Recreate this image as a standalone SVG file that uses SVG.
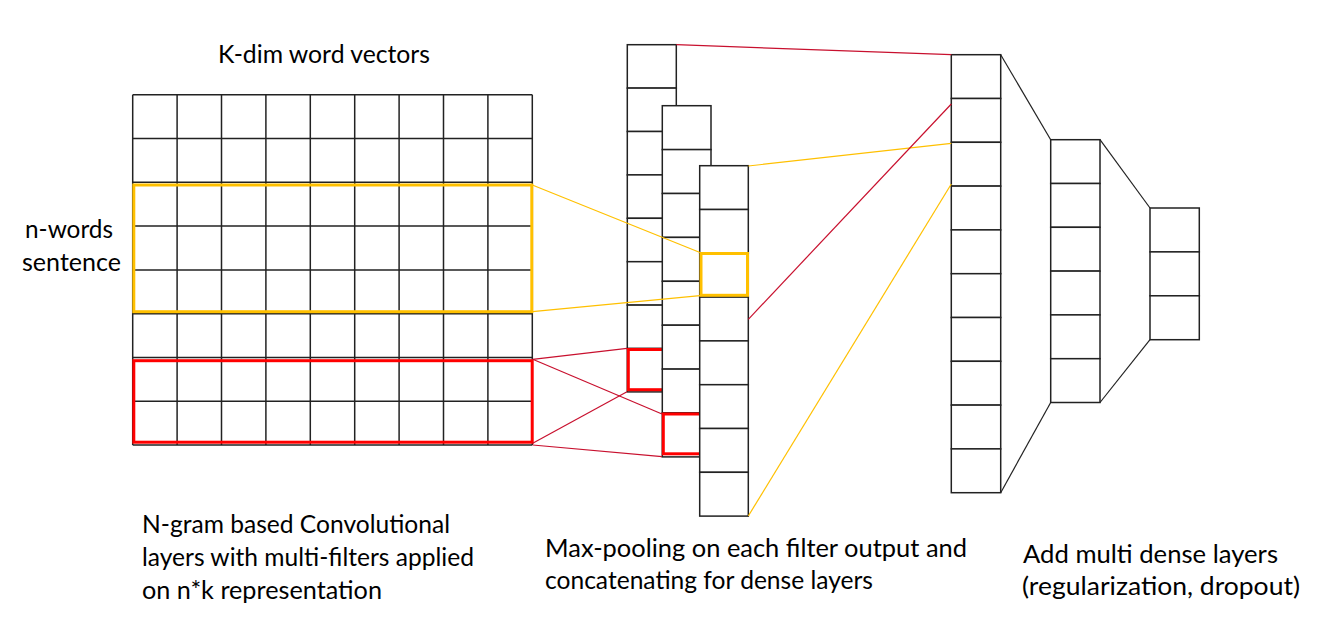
<svg xmlns="http://www.w3.org/2000/svg" width="1334" height="642" viewBox="0 0 1334 642">
<style>
.cell{fill:#fff;stroke:#222;stroke-width:1.5}
.gl{stroke:#222;stroke-width:1.5}
.ybox{fill:none;stroke:#FFC000;stroke-width:3}
.rbox{fill:none;stroke:#FF0000;stroke-width:3}
.yl{stroke:#FFC000;stroke-width:1.2;fill:none}
.rl{stroke:#C8102E;stroke-width:1.2;fill:none}
.bl{stroke:#222;stroke-width:1.2;fill:none}
text{font-family:Lato,"Open Sans","Liberation Sans",sans-serif;font-size:24.5px;fill:#000}
</style>
<rect width="1334" height="642" fill="#fff"/>
<g id="labels">
<text x="218" y="63" textLength="212" lengthAdjust="spacingAndGlyphs">K-dim word vectors</text>
<text x="25" y="238" textLength="88" lengthAdjust="spacingAndGlyphs">n-words</text>
<text x="22" y="271" textLength="99" lengthAdjust="spacingAndGlyphs">sentence</text>
<text x="142" y="533" textLength="308" lengthAdjust="spacingAndGlyphs">N-gram based Convolutional</text>
<text x="142" y="566" textLength="332" lengthAdjust="spacingAndGlyphs">layers with multi-filters applied</text>
<text x="142" y="599" textLength="240" lengthAdjust="spacingAndGlyphs">on n*k representation</text>
<text x="545" y="557" textLength="422" lengthAdjust="spacingAndGlyphs">Max-pooling on each filter output and</text>
<text x="545" y="589" textLength="328" lengthAdjust="spacingAndGlyphs">concatenating for dense layers</text>
<text x="1023" y="563" textLength="255" lengthAdjust="spacingAndGlyphs">Add multi dense layers</text>
<text x="1022" y="595" textLength="278" lengthAdjust="spacingAndGlyphs">(regularization, dropout)</text>
</g>
<g id="word-matrix">
<rect x="132.7" y="94.7" width="399.6" height="350.4" fill="#fff"/>
<g class="gl">
<line x1="132.7" y1="94.7" x2="132.7" y2="445.1"/>
<line x1="177.1" y1="94.7" x2="177.1" y2="445.1"/>
<line x1="221.5" y1="94.7" x2="221.5" y2="445.1"/>
<line x1="265.9" y1="94.7" x2="265.9" y2="445.1"/>
<line x1="310.3" y1="94.7" x2="310.3" y2="445.1"/>
<line x1="354.7" y1="94.7" x2="354.7" y2="445.1"/>
<line x1="399.1" y1="94.7" x2="399.1" y2="445.1"/>
<line x1="443.5" y1="94.7" x2="443.5" y2="445.1"/>
<line x1="487.9" y1="94.7" x2="487.9" y2="445.1"/>
<line x1="532.3" y1="94.7" x2="532.3" y2="445.1"/>
<line x1="132.7" y1="94.7" x2="532.3" y2="94.7"/>
<line x1="132.7" y1="138.5" x2="532.3" y2="138.5"/>
<line x1="132.7" y1="182.3" x2="532.3" y2="182.3"/>
<line x1="132.7" y1="226.1" x2="532.3" y2="226.1"/>
<line x1="132.7" y1="269.9" x2="532.3" y2="269.9"/>
<line x1="132.7" y1="313.7" x2="532.3" y2="313.7"/>
<line x1="132.7" y1="357.5" x2="532.3" y2="357.5"/>
<line x1="132.7" y1="401.3" x2="532.3" y2="401.3"/>
<line x1="132.7" y1="445.1" x2="532.3" y2="445.1"/>
</g>
<rect class="ybox" x="133.8" y="185" width="398" height="126.7"/>
<rect class="rbox" x="133.8" y="360.7" width="398.4" height="81.5"/>
</g>
<g id="filter-output-1">
<rect class="cell" x="627.3" y="44.7" width="49" height="43.4"/>
<rect class="cell" x="627.3" y="88.1" width="49" height="43.4"/>
<rect class="cell" x="627.3" y="131.5" width="49" height="43.4"/>
<rect class="cell" x="627.3" y="174.9" width="49" height="43.4"/>
<rect class="cell" x="627.3" y="218.3" width="49" height="43.4"/>
<rect class="cell" x="627.3" y="261.7" width="49" height="43.4"/>
<rect class="cell" x="627.3" y="305.1" width="49" height="43.4"/>
<rect class="cell" x="627.3" y="348.5" width="49" height="43.4"/>
<rect class="rbox" x="628.3" y="349.5" width="46" height="40.2"/>
</g>
<g id="filter-output-2">
<rect class="cell" x="662.3" y="105.7" width="48.7" height="43.9"/>
<rect class="cell" x="662.3" y="149.6" width="48.7" height="43.9"/>
<rect class="cell" x="662.3" y="193.5" width="48.7" height="43.9"/>
<rect class="cell" x="662.3" y="237.4" width="48.7" height="43.9"/>
<rect class="cell" x="662.3" y="281.3" width="48.7" height="43.9"/>
<rect class="cell" x="662.3" y="325.2" width="48.7" height="43.9"/>
<rect class="cell" x="662.3" y="369.1" width="48.7" height="43.9"/>
<rect class="cell" x="662.3" y="413.0" width="48.7" height="43.9"/>
<rect class="rbox" x="663.3" y="414" width="46" height="39.8"/>
</g>
<g id="filter-output-3">
<rect class="cell" x="699.7" y="165.7" width="48.6" height="43.8"/>
<rect class="cell" x="699.7" y="209.5" width="48.6" height="43.8"/>
<rect class="cell" x="699.7" y="253.3" width="48.6" height="43.8"/>
<rect class="cell" x="699.7" y="297.1" width="48.6" height="43.8"/>
<rect class="cell" x="699.7" y="340.9" width="48.6" height="43.8"/>
<rect class="cell" x="699.7" y="384.7" width="48.6" height="43.8"/>
<rect class="cell" x="699.7" y="428.5" width="48.6" height="43.8"/>
<rect class="cell" x="699.7" y="472.3" width="48.6" height="43.8"/>
<rect class="ybox" x="701" y="253.5" width="46.5" height="41.8"/>
</g>
<g id="dense-1">
<rect class="cell" x="951.3" y="54.7" width="49.4" height="43.8"/>
<rect class="cell" x="951.3" y="98.5" width="49.4" height="43.8"/>
<rect class="cell" x="951.3" y="142.3" width="49.4" height="43.8"/>
<rect class="cell" x="951.3" y="186.1" width="49.4" height="43.8"/>
<rect class="cell" x="951.3" y="229.9" width="49.4" height="43.8"/>
<rect class="cell" x="951.3" y="273.7" width="49.4" height="43.8"/>
<rect class="cell" x="951.3" y="317.5" width="49.4" height="43.8"/>
<rect class="cell" x="951.3" y="361.3" width="49.4" height="43.8"/>
<rect class="cell" x="951.3" y="405.1" width="49.4" height="43.8"/>
<rect class="cell" x="951.3" y="448.9" width="49.4" height="43.8"/>
</g>
<g id="dense-2">
<rect class="cell" x="1050.7" y="139.7" width="49.3" height="43.8"/>
<rect class="cell" x="1050.7" y="183.5" width="49.3" height="43.8"/>
<rect class="cell" x="1050.7" y="227.3" width="49.3" height="43.8"/>
<rect class="cell" x="1050.7" y="271.1" width="49.3" height="43.8"/>
<rect class="cell" x="1050.7" y="314.9" width="49.3" height="43.8"/>
<rect class="cell" x="1050.7" y="358.7" width="49.3" height="43.8"/>
</g>
<g id="dense-3">
<rect class="cell" x="1150" y="208" width="49.3" height="43.9"/>
<rect class="cell" x="1150" y="251.9" width="49.3" height="43.9"/>
<rect class="cell" x="1150" y="295.8" width="49.3" height="43.9"/>
</g>
<g id="connectors">
<line class="yl" x1="532.3" y1="185" x2="700" y2="252.5"/>
<line class="yl" x1="532.3" y1="311.7" x2="700" y2="295.7"/>
<line class="yl" x1="748.3" y1="166" x2="951.3" y2="143.3"/>
<line class="yl" x1="748.3" y1="516" x2="951.3" y2="184"/>
<line class="rl" x1="676.3" y1="44.7" x2="951.3" y2="54.7"/>
<line class="rl" x1="748.3" y1="319.3" x2="951.3" y2="104"/>
<line class="rl" x1="532.7" y1="359.3" x2="627" y2="348.3"/>
<line class="rl" x1="532.7" y1="359.3" x2="662" y2="414"/>
<line class="rl" x1="532.7" y1="443.3" x2="627" y2="391.7"/>
<line class="rl" x1="532.7" y1="445" x2="662" y2="456.7"/>
<line class="bl" x1="1000.7" y1="54.7" x2="1050.7" y2="139.7"/>
<line class="bl" x1="1000.7" y1="492.7" x2="1050.7" y2="402.5"/>
<line class="bl" x1="1100" y1="139.7" x2="1150" y2="208"/>
<line class="bl" x1="1100" y1="402.5" x2="1150" y2="339.7"/>
</g>
</svg>
